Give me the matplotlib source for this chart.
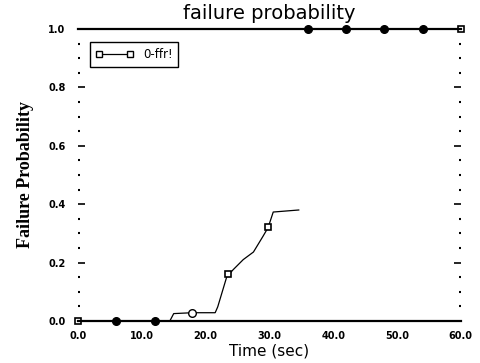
import matplotlib
matplotlib.use("Agg")
import matplotlib.pyplot as plt
from matplotlib.ticker import MultipleLocator

# failure probability curve (0-ffr!)
time = [0.0, 6.0, 12.0, 14.4, 15.0, 17.9, 21.5, 21.9, 23.3, 24.3, 25.9, 27.5, 29.0, 29.8, 30.6, 34.6]
prob = [0.0, 0.0, 0.0, 0.0, 0.025, 0.028, 0.028, 0.048, 0.15, 0.175, 0.21, 0.236, 0.29, 0.32, 0.373, 0.38]

# markers every 6 s
sq_t = [0.0, 23.5, 29.8, 60.0]
sq_p = [0.0, 0.16, 0.32, 1.0]
dot_t = [6.0, 12.0, 36.0, 42.0, 48.0, 54.0]
dot_p = [0.0, 0.0, 1.0, 1.0, 1.0, 1.0]
circ_t = [17.9]
circ_p = [0.028]

yticks = [0.0, 0.2, 0.4, 0.6, 0.8, 1.0]
xticks = [0, 10, 20, 30, 40, 50, 60]

fig = plt.figure(figsize=(4.8, 3.63), dpi=100)
ax = fig.add_axes([0.1625, 0.116, 0.7975, 0.804])

ax.plot(time, prob, color="black", lw=0.9)
ax.plot(sq_t, sq_p, ls="none", marker="s", ms=4.5, mfc="white", mec="black", mew=1.2, clip_on=False)
ax.plot(dot_t, dot_p, ls="none", marker="o", ms=5.5, color="black", clip_on=False)
ax.plot(circ_t, circ_p, ls="none", marker="o", ms=5.5, mfc="white", mec="black", mew=1.0)

# legend entry
ax.plot([], [], color="black", lw=0.9, marker="s", ms=4, mfc="white", mec="black", label="0-ffr!")
leg = ax.legend(loc="upper left", numpoints=2, fontsize=8.5, frameon=True, fancybox=False,
                handlelength=3.2, borderpad=0.5, bbox_to_anchor=(0.015, 0.975))
leg.get_frame().set_edgecolor("black")
leg.get_frame().set_linewidth(1.0)
leg.get_frame().set_facecolor("white")
leg.get_frame().set_alpha(1)

ax.set_xlim(0, 60)
ax.set_ylim(0, 1.0)
ax.set_xticks(xticks)
ax.set_xticklabels(["%.1f" % v for v in xticks], fontsize=7, fontweight="bold")
ax.set_yticks(yticks)
ax.set_yticklabels(["%.1f" % v for v in yticks], fontsize=7, fontweight="bold")
ax.yaxis.set_minor_locator(MultipleLocator(0.05))
ax.tick_params(axis="y", which="major", direction="in", length=5, width=1.2, left=True, right=True, pad=9)
ax.tick_params(axis="y", which="minor", direction="in", length=1.5, width=1.5, left=True, right=True)
ax.tick_params(axis="x", which="major", direction="in", length=0, pad=7)

ax.spines["left"].set_visible(False)
ax.spines["right"].set_visible(False)
ax.spines["top"].set_linewidth(1.6)
ax.spines["bottom"].set_linewidth(1.6)

ax.set_title("failure probability", fontsize=14, pad=7)
ax.set_xlabel("Time (sec)", fontsize=11, labelpad=2)
ax.set_ylabel("Failure Probability", fontsize=13, fontweight="bold", family="Liberation Serif", labelpad=10)

fig.savefig("out.png", dpi=100)
